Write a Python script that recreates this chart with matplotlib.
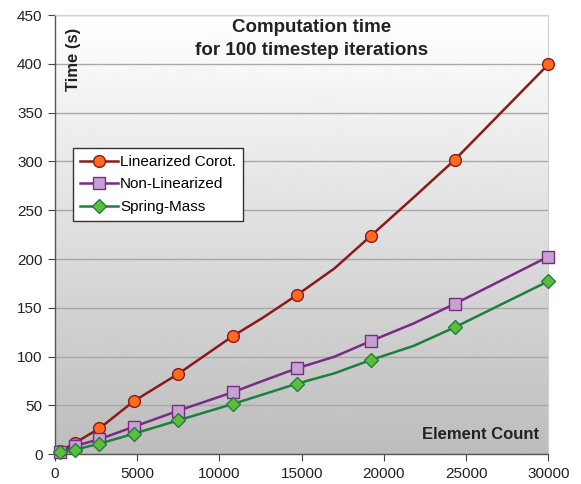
import numpy as np
import matplotlib

matplotlib.use("Agg")
import matplotlib.pyplot as plt

plt.rcParams["font.family"] = ["Liberation Sans", "DejaVu Sans"]

# element counts (some points drawn without markers)
elements = [300, 1200, 2700, 4800, 7500, 10800, 12600, 14700, 17000, 19200, 21800, 24300, 30000]
marked = [0, 1, 2, 3, 4, 5, 7, 9, 11, 12]

lin_corot = [3, 11.6, 26.5, 54.5, 82.5, 121, 139.5, 163, 190.5, 223.7, 263, 301.5, 399.5]
non_lin = [2.7, 8.5, 15.4, 28.3, 44.7, 63.5, 75, 88, 100, 116, 134, 154, 202.5]
spring_mass = [2, 4.6, 10.9, 21.1, 34.8, 51.5, 61, 72.3, 83, 96.6, 111, 130, 177.3]

series = [
    ("Linearized Corot.", lin_corot, "o", "#8b1a1a", "#ff6a1f", 8.5),
    ("Non-Linearized", non_lin, "s", "#7b2a86", "#c6a2d2", 8.5),
    ("Spring-Mass", spring_mass, "D", "#1f7f3c", "#5cbd3c", 7.0),
]

fig = plt.figure(figsize=(5.81, 4.84), dpi=100)
ax = fig.add_axes([0.0947, 0.0614, 0.849, 0.9074])

# vertical gradient background
grad = np.linspace(1.0, 0.74, 256).reshape(-1, 1)
ax.imshow(grad, cmap="gray", vmin=0, vmax=1, extent=[0, 30000, 0, 450],
          aspect="auto", origin="upper", zorder=0)

for name, vals, mk, lc, fc, ms in series:
    ax.plot(elements, vals, color=lc, lw=1.8, marker=mk, markevery=marked,
            markersize=ms, markerfacecolor=fc, markeredgecolor=lc,
            markeredgewidth=1.0, label=name, zorder=3, clip_on=False)

ax.set_xlim(0, 30000)
ax.set_ylim(0, 450)
ax.set_xticks(range(0, 30001, 5000))
ax.set_yticks(range(0, 451, 50))
ax.grid(axis="y", color="#a8a8a8", lw=1.0, zorder=1)
ax.set_axisbelow(True)
ax.tick_params(axis="both", direction="out", length=5, color="#444444",
               labelsize=11, labelcolor="#222222", pad=4)

for side in ("top", "right"):
    ax.spines[side].set_color("#d0d0d0")
for side in ("left", "bottom"):
    ax.spines[side].set_color("#555555")
    ax.spines[side].set_linewidth(1.0)

ax.text(0.52, 0.99, "Computation time\nfor 100 timestep iterations",
        transform=ax.transAxes, ha="center", va="top", fontsize=13.5,
        fontweight="bold", color="#222222", linespacing=1.45)
ax.text(0.037, 0.972, "Time (s)", transform=ax.transAxes, rotation=90,
        ha="center", va="top", fontsize=12, fontweight="bold", color="#222222")
ax.text(0.981, 0.028, "Element Count", transform=ax.transAxes, ha="right",
        va="bottom", fontsize=12, fontweight="bold", color="#222222")

leg = ax.legend(loc="upper left", bbox_to_anchor=(0.037, 0.697), fontsize=11,
                frameon=True, fancybox=False, edgecolor="#333333",
                framealpha=1.0, handlelength=2.5, handletextpad=0.1,
                borderpad=0.45, labelspacing=0.55, borderaxespad=0)
leg.get_frame().set_linewidth(1.0)

fig.savefig("out.png", dpi=100)
